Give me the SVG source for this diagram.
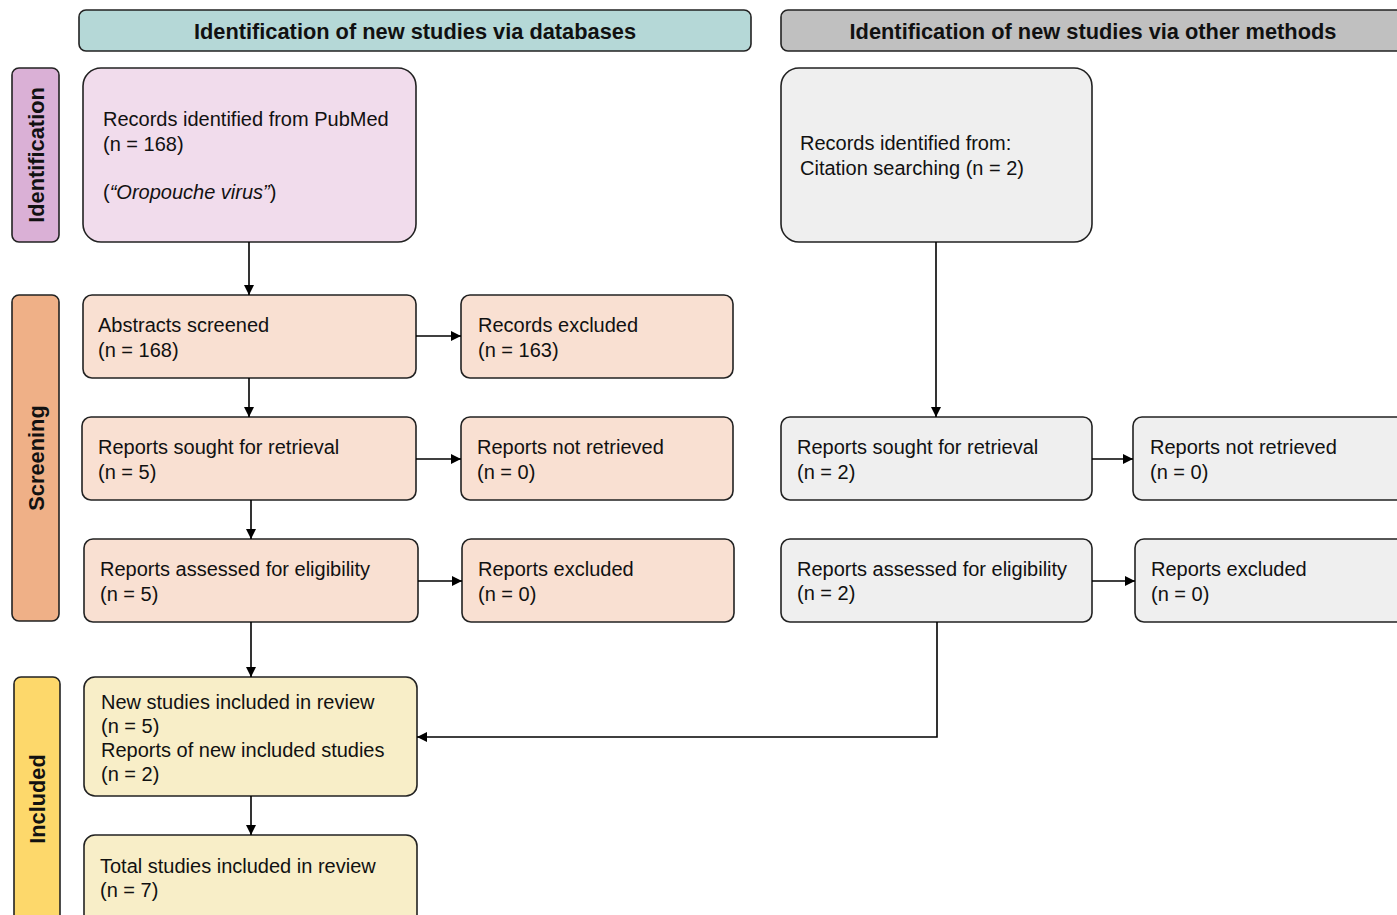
<svg xmlns="http://www.w3.org/2000/svg" width="1397" height="915" viewBox="0 0 1397 915">
<defs>
<marker id="ah" viewBox="0 0 10 10" refX="10" refY="5" markerWidth="10" markerHeight="10" markerUnits="userSpaceOnUse" orient="auto">
<path d="M0,0 L10,5 L0,10 z" fill="#000"/>
</marker>
<style>
.box{stroke:#222;stroke-width:1.6}
.t{font-family:"Liberation Sans",Arial,sans-serif;font-size:20px;fill:#111}
.h{font-family:"Liberation Sans",Arial,sans-serif;font-size:21.8px;font-weight:bold;fill:#111}
.pink{fill:#f1dcec}
.peach{fill:#f9e0d2}
.gray{fill:#efefef}
.yel{fill:#f8eec8}
.c{fill:none;stroke:#000;stroke-width:1.6;marker-end:url(#ah)}
</style>
</defs>
<rect width="1397" height="915" fill="#fff"/>

<g id="header-databases">
<rect class="box" x="79" y="10" width="672" height="41" rx="7" fill="#b5d8d7"/>
<text class="h" x="415" y="39" text-anchor="middle">Identification of new studies via databases</text>
</g>
<g id="header-other">
<rect class="box" x="781" y="10" width="630" height="41" rx="7" fill="#c0c0c0"/>
<text class="h" x="1093" y="39" text-anchor="middle">Identification of new studies via other methods</text>
</g>

<g id="bar-identification">
<rect class="box" x="12" y="68" width="47" height="174" rx="7" fill="#dab0d6"/>
<text class="h" transform="translate(44,155) rotate(-90)" text-anchor="middle">Identification</text>
</g>
<g id="bar-screening">
<rect class="box" x="12" y="295" width="47" height="326" rx="7" fill="#efb087"/>
<text class="h" transform="translate(44,458) rotate(-90)" text-anchor="middle">Screening</text>
</g>
<g id="bar-included">
<rect class="box" x="14" y="677" width="46" height="260" rx="7" fill="#fdd86b"/>
<text class="h" transform="translate(45,799) rotate(-90)" text-anchor="middle">Included</text>
</g>

<g id="n-pubmed">
<rect class="box pink" x="83" y="68" width="333" height="174" rx="18"/>
<text class="t" x="103" y="126">Records identified from PubMed</text>
<text class="t" x="103" y="151">(n = 168)</text>
<text class="t" x="103" y="199">(<tspan font-style="italic">“Oropouche virus”</tspan>)</text>
</g>
<g id="n-abstracts">
<rect class="box peach" x="83" y="295" width="333" height="83" rx="9"/>
<text class="t" x="98" y="332">Abstracts screened</text>
<text class="t" x="98" y="357">(n = 168)</text>
</g>
<g id="n-rec-excluded">
<rect class="box peach" x="461" y="295" width="272" height="83" rx="9"/>
<text class="t" x="478" y="332">Records excluded</text>
<text class="t" x="478" y="357">(n = 163)</text>
</g>
<g id="n-sought">
<rect class="box peach" x="82" y="417" width="334" height="83" rx="9"/>
<text class="t" x="98" y="454">Reports sought for retrieval</text>
<text class="t" x="98" y="479">(n = 5)</text>
</g>
<g id="n-not-retrieved">
<rect class="box peach" x="461" y="417" width="272" height="83" rx="9"/>
<text class="t" x="477" y="454">Reports not retrieved</text>
<text class="t" x="477" y="479">(n = 0)</text>
</g>
<g id="n-assessed">
<rect class="box peach" x="84" y="539" width="334" height="83" rx="9"/>
<text class="t" x="100" y="576">Reports assessed for eligibility</text>
<text class="t" x="100" y="601">(n = 5)</text>
</g>
<g id="n-rep-excluded">
<rect class="box peach" x="462" y="539" width="272" height="83" rx="9"/>
<text class="t" x="478" y="576">Reports excluded</text>
<text class="t" x="478" y="601">(n = 0)</text>
</g>

<g id="n-citation">
<rect class="box gray" x="781" y="68" width="311" height="174" rx="18"/>
<text class="t" x="800" y="150">Records identified from:</text>
<text class="t" x="800" y="175">Citation searching (n = 2)</text>
</g>
<g id="n-sought-2">
<rect class="box gray" x="781" y="417" width="311" height="83" rx="9"/>
<text class="t" x="797" y="454">Reports sought for retrieval</text>
<text class="t" x="797" y="479">(n = 2)</text>
</g>
<g id="n-not-retrieved-2">
<rect class="box gray" x="1133" y="417" width="290" height="83" rx="9"/>
<text class="t" x="1150" y="454">Reports not retrieved</text>
<text class="t" x="1150" y="479">(n = 0)</text>
</g>
<g id="n-assessed-2">
<rect class="box gray" x="781" y="539" width="311" height="83" rx="9"/>
<text class="t" x="797" y="576">Reports assessed for eligibility</text>
<text class="t" x="797" y="600">(n = 2)</text>
</g>
<g id="n-rep-excluded-2">
<rect class="box gray" x="1135" y="539" width="290" height="83" rx="9"/>
<text class="t" x="1151" y="576">Reports excluded</text>
<text class="t" x="1151" y="601">(n = 0)</text>
</g>

<g id="n-new-included">
<rect class="box yel" x="84" y="677" width="333" height="119" rx="11"/>
<text class="t" x="101" y="709">New studies included in review</text>
<text class="t" x="101" y="733">(n = 5)</text>
<text class="t" x="101" y="757">Reports of new included studies</text>
<text class="t" x="101" y="781">(n = 2)</text>
</g>
<g id="n-total">
<rect class="box yel" x="84" y="835" width="333" height="100" rx="11"/>
<text class="t" x="100" y="873">Total studies included in review</text>
<text class="t" x="100" y="897">(n = 7)</text>
</g>

<g id="connectors">
<path class="c" d="M249,242 V295"/>
<path class="c" d="M249,378 V417"/>
<path class="c" d="M251,500 V539"/>
<path class="c" d="M251,622 V677"/>
<path class="c" d="M251,796 V835"/>
<path class="c" d="M416,336 H461"/>
<path class="c" d="M416,459 H461"/>
<path class="c" d="M418,581 H462"/>
<path class="c" d="M936,242 V417"/>
<path class="c" d="M1092,459 H1133"/>
<path class="c" d="M1092,581 H1135"/>
<path class="c" d="M937,622 V737 H417"/>
</g>
</svg>
